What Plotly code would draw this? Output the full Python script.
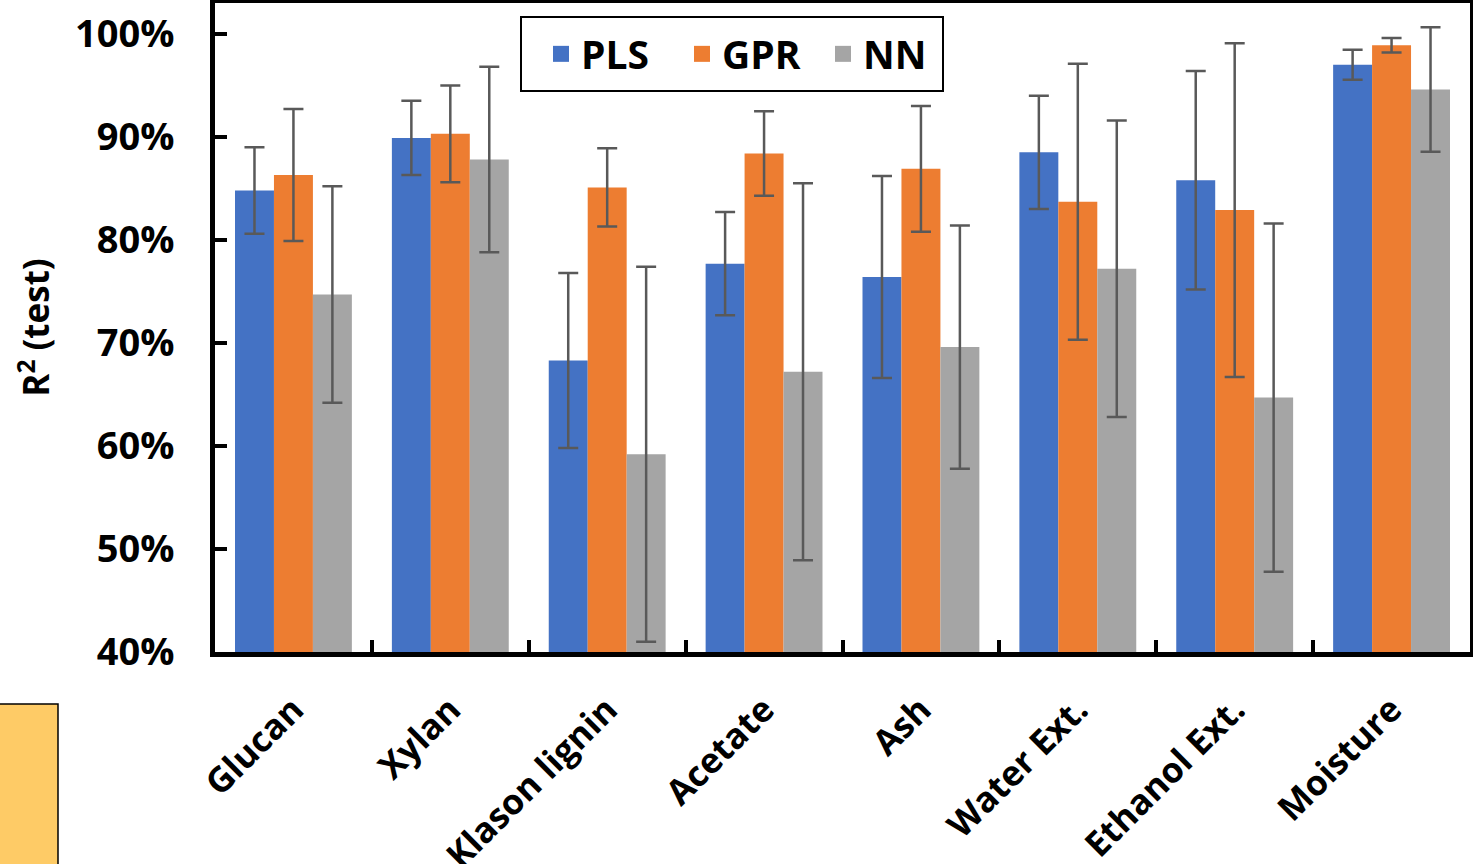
import plotly.graph_objects as go

categories = ["Glucan", "Xylan", "Klason lignin", "Acetate", "Ash",
              "Water Ext.", "Ethanol Ext.", "Moisture"]
series_names = ["PLS", "GPR", "NN"]
pls_vals = [84.8, 89.9, 68.3, 77.7, 76.4, 88.5, 85.8, 97.0]
pls_err = [4.2, 3.6, 8.5, 5.0, 9.8, 5.5, 10.6, 1.45]
gpr_vals = [86.3, 90.3, 85.1, 88.4, 86.9, 83.7, 82.9, 98.9]
gpr_err = [6.4, 4.7, 3.8, 4.1, 6.1, 13.4, 16.2, 0.7]
nn_vals = [74.7, 87.8, 59.2, 67.2, 69.6, 77.2, 64.7, 94.6]
nn_err = [10.5, 9.0, 18.2, 18.3, 11.8, 14.4, 16.9, 6.05]
colors = ["#4472C4", "#ED7D31", "#A5A5A5"]
y_tickvals = [40, 50, 60, 70, 80, 90, 100]
y_ticktext = ["40%", "50%", "60%", "70%", "80%", "90%", "100%"]

W, H = 1473, 864
ML, MR, MT, MB = 215, 3, 3, 212
PW, PH = W - ML - MR, H - MT - MB

FONT = "Open Sans"

fig = go.Figure()
for name, vals, errs, col in zip(series_names, [pls_vals, gpr_vals, nn_vals],
                                 [pls_err, gpr_err, nn_err], colors):
    fig.add_trace(go.Bar(
        x=categories, y=vals, name=name, marker_color=col,
        marker_line_width=0, showlegend=False,
        error_y=dict(type="data", array=errs, visible=True,
                     color="#595959", thickness=2.5, width=10),
    ))
for name, col in zip(series_names, colors):
    fig.add_trace(go.Scatter(
        x=[None], y=[None], mode="markers", name=name,
        marker=dict(symbol="square", size=20, color=col),
    ))

def px_x(p):
    return (p - ML) / PW

def px_y(p):
    return (H - MB - p) / PH

# decorative orange box at lower left
fig.add_shape(type="rect", xref="paper", yref="paper",
              x0=px_x(-2), x1=px_x(58), y0=px_y(870), y1=px_y(704),
              fillcolor="#FECB66", line=dict(color="black", width=1.5),
              layer="above")
# legend frame
fig.add_shape(type="rect", xref="paper", yref="paper",
              x0=px_x(521), x1=px_x(943), y0=px_y(91), y1=px_y(17),
              fillcolor="white", line=dict(color="black", width=2),
              layer="above")

fig.update_layout(
    width=W, height=H,
    margin=dict(l=ML, r=MR, t=MT, b=MB, autoexpand=False),
    paper_bgcolor="white", plot_bgcolor="white",
    barmode="group", bargap=0.255, bargroupgap=0,
    font=dict(family=FONT, color="black"),
    showlegend=True,
    legend=dict(
        orientation="h", x=px_x(541), y=px_y(54), xanchor="left", yanchor="middle",
        borderwidth=0, bgcolor="rgba(0,0,0,0)",
        font=dict(family=FONT, size=39, color="black", weight="bold"),
        itemsizing="trace", entrywidth=96,
    ),
    xaxis=dict(
        showline=True, linecolor="black", linewidth=5, mirror=True,
        ticks="inside", tickson="boundaries", ticklen=12, tickwidth=4,
        tickcolor="black", tickangle=-45, automargin=False,
        tickfont=dict(family=FONT, size=35, color="black", weight="bold"),
        ticklabelstandoff=18,
        showgrid=False, zeroline=False,
    ),
    yaxis=dict(
        range=[40, 103], automargin=False,
        tickvals=y_tickvals, ticktext=y_ticktext,
        showline=True, linecolor="black", linewidth=5, mirror=True,
        ticks="inside", ticklen=12, tickwidth=4, tickcolor="black",
        tickfont=dict(family=FONT, size=38, color="black", weight="bold"),
        ticklabelstandoff=28,
        showgrid=False, zeroline=False,
        title=dict(text="R<sup>2</sup> (test)",
                   font=dict(family=FONT, size=35, color="black", weight="bold"),
                   standoff=16),
    ),
)

fig.write_html("out.html")
